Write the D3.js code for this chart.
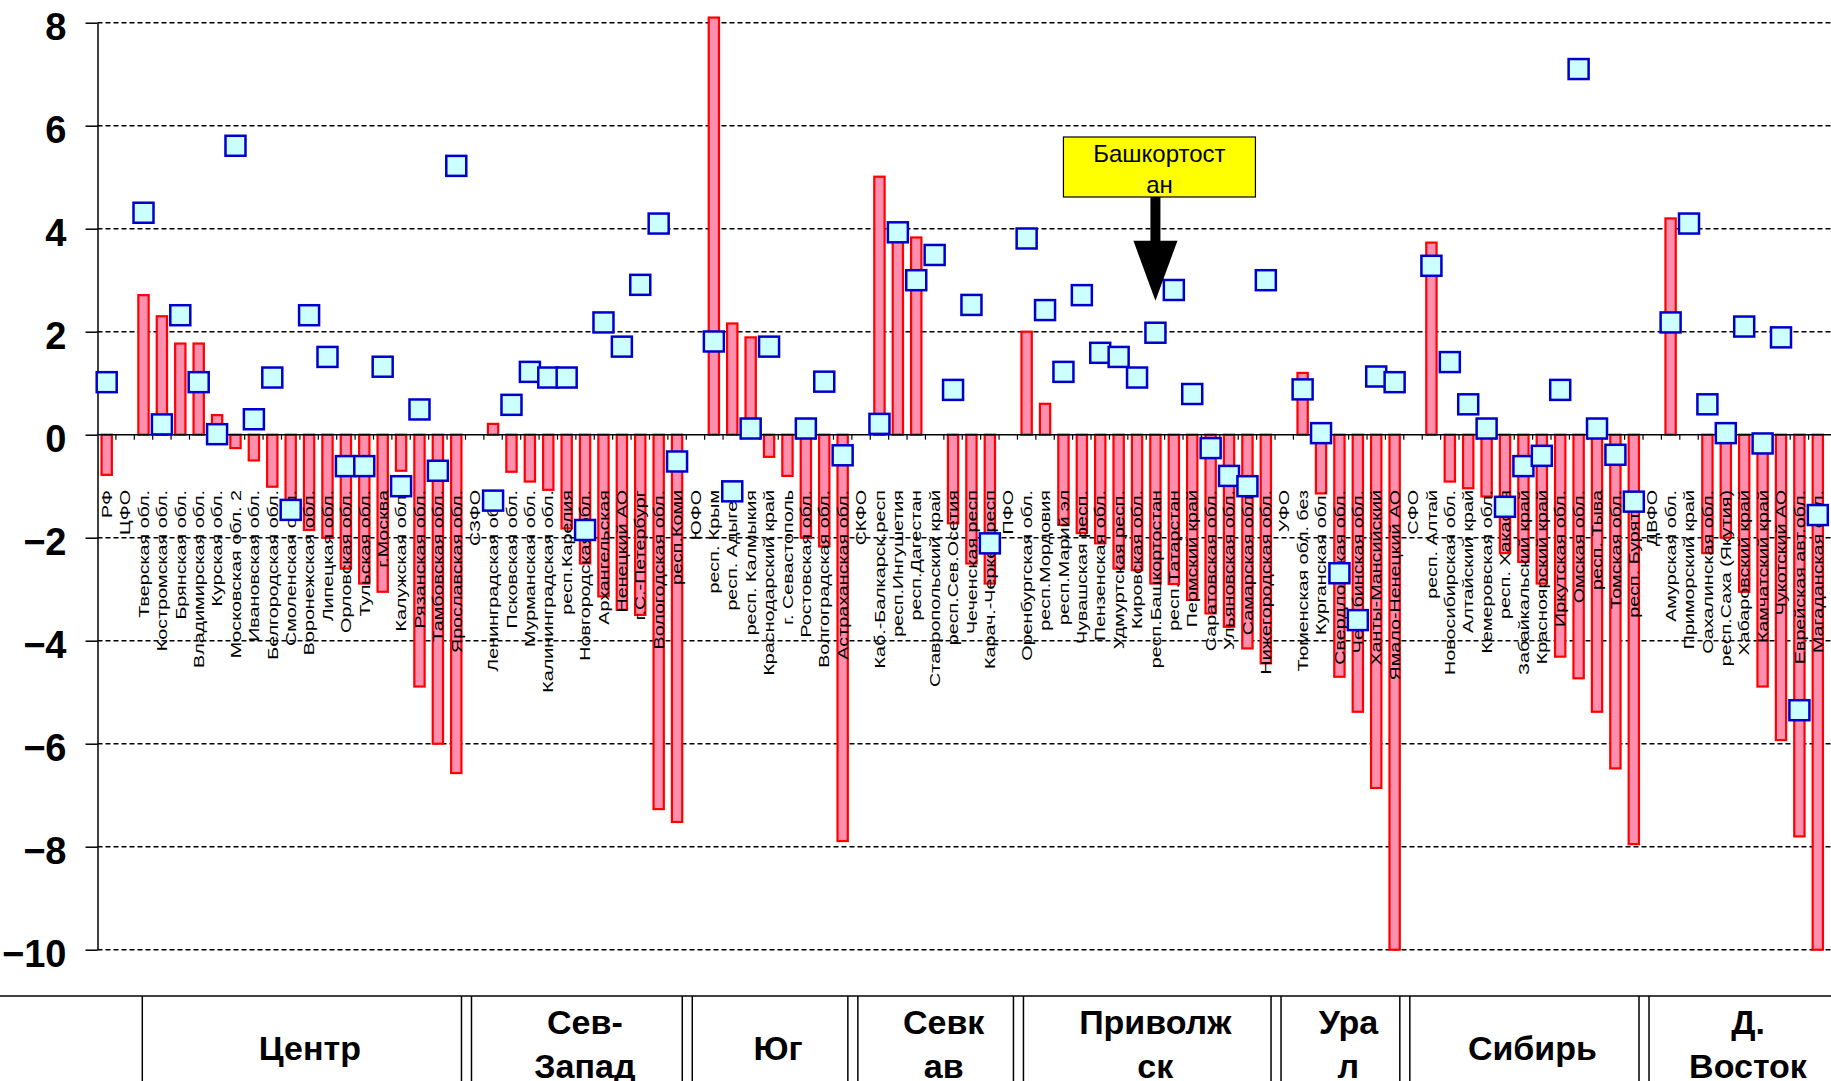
<!DOCTYPE html>
<html lang="ru">
  <head>
    <meta charset="UTF-8" />
    <title>Регионы</title>
    <script src="https://cdnjs.cloudflare.com/ajax/libs/d3/7.8.5/d3.min.js"></script>
    <style>
      body {
        margin: 0;
        background: #fff;
        font-family: 'Liberation Sans', Arial, sans-serif;
      }
      .cat text {
        font-size: 14.5px;
      }
      .yaxis text {
        font-size: 38px;
        font-weight: bold;
      }
      .region text {
        font-size: 34px;
        font-weight: bold;
      }
    </style>
  </head>
  <body>
    <svg width="1831" height="1081"></svg>
    <script>
      // categories (left to right)
      const categories = [
        'РФ', 'ЦФО', 'Тверская обл.', 'Костромская обл.', 'Брянская обл.', 'Владимирская обл.',
        'Курская обл.', 'Московская обл. 2', 'Ивановская обл.', 'Белгородская обл.', 'Смоленская обл.',
        'Воронежская обл.', 'Липецкая обл.', 'Орловская обл.', 'Тульская обл.', 'г.Москва',
        'Калужская обл.', 'Рязанская обл.', 'Тамбовская обл.', 'Ярославская обл.', 'СЗФО',
        'Ленинградская обл.', 'Псковская обл.', 'Мурманская обл.', 'Калининградская обл.',
        'респ.Карелия', 'Новгородская обл.', 'Архангельская', 'Ненецкий АО', 'г.С.-Петербург',
        'Вологодская обл.', 'респ.Коми', 'ЮФО', 'респ. Крым', 'респ. Адыгея', 'респ. Калмыкия',
        'Краснодарский край', 'г. Севастополь', 'Ростовская обл.', 'Волгоградская обл.',
        'Астраханская обл.', 'СКФО', 'Каб.-Балкарск.респ', 'респ.Ингушетия', 'респ.Дагестан',
        'Ставропольский край', 'респ.Сев.Осетия', 'Чеченская респ', 'Карач.-Черкес.респ', 'ПФО',
        'Оренбургская обл.', 'респ.Мордовия', 'респ.Марий эл', 'Чувашская респ.', 'Пензенская обл.',
        'Удмуртская респ.', 'Кировская обл.', 'респ.Башкортостан', 'респ.Татарстан', 'Пермский край',
        'Саратовская обл.', 'Ульяновская обл.', 'Самарская обл.', 'Нижегородская обл.', 'УФО',
        'Тюменская обл. без', 'Курганская обл.', 'Свердловская обл.', 'Челябинская обл.',
        'Ханты-Мансийский', 'Ямало-Ненецкий АО', 'СФО', 'респ. Алтай', 'Новосибирская обл.',
        'Алтайский край', 'Кемеровская обл.', 'респ. Хакасия', 'Забайкальский край',
        'Красноярский край', 'Иркутская обл.', 'Омская обл.', 'респ. Тыва', 'Томская обл.',
        'респ. Бурятия', 'ДВФО', 'Амурская обл.', 'Приморский край', 'Сахалинская обл.',
        'респ.Саха (Якутия)', 'Хабаровский край', 'Камчатский край', 'Чукотский АО',
        'Еврейская авт.обл.', 'Магаданская обл.'
      ];

      // bars (null = no bar)
      const barValues = [
        -0.78, null, 2.71, 2.3, 1.77, 1.77, 0.38, -0.26, -0.5, -1.01, -1.3,
        -1.85, -2.0, -2.6, -2.89, -3.05, -0.7, -4.89, -6.0, -6.57, null,
        0.21, -0.72, -0.91, -1.07, -1.82, -2.5, -3.14, -3.4, -3.5, -7.27, -7.52, null,
        8.1, 2.16, 1.89, -0.43, -0.8, -2.0, -2.17, -7.89, null,
        5.01, 3.88, 3.83, null, -1.72, -2.5, -2.89, null,
        2.0, 0.6, -1.75, -1.91, -2.11, -2.6, -2.63, -2.89, -2.9, -3.21, -3.47, -3.73, -4.15, -4.44, null,
        1.2, -1.14, -4.7, -5.38, -6.86, -10, null,
        3.73, -0.91, -1.04, -1.2, -2.3, -2.47, -2.89, -4.31, -4.73, -5.38, -6.48, -7.95, null,
        4.2, null, -2.3, -2.0, -3.05, -4.89, -5.93, -7.8, -10
      ];

      // square markers (null = no marker)
      const markerValues = [
        1.02, null, 4.31, 0.2, 2.32, 1.02, 0.01, 5.61, 0.3, 1.11, -1.46,
        2.32, 1.51, -0.61, -0.61, 1.32, -1.0, 0.49, -0.7, 5.22, null,
        -1.28, 0.58, 1.22, 1.11, 1.11, -1.85, 2.18, 1.71, 2.91, 4.1, -0.52, null,
        1.81, -1.1, 0.12, 1.71, null, 0.12, 1.03, -0.4, null,
        0.21, 3.93, 3.0, 3.49, 0.87, 2.52, -2.11, null,
        3.81, 2.42, 1.22, 2.71, 1.59, 1.51, 1.11, 1.98, 2.81, 0.79, -0.26, -0.8, -1.0, 3.0, null,
        0.88, 0.03, -2.69, -3.6, 1.13, 1.02, null,
        3.28, 1.41, 0.59, 0.12, -1.4, -0.61, -0.41, 0.87, 7.1, 0.12, -0.39, -1.3, null,
        2.18, 4.1, 0.59, 0.03, 2.1, -0.17, 1.89, -5.35, -1.56
      ];

      const yTicks = [8, 6, 4, 2, 0, -2, -4, -6, -8, -10];

      // bottom strip: columns where the double separators sit
      const stripSeps = ['СЗФО', 'ЮФО', 'СКФО', 'Оренбургская обл.', 'УФО', 'СФО', 'ДВФО'];
      const regionLabels = [
        ['Центр'], ['Сев-', 'Запад'], ['Юг'], ['Севк', 'ав'],
        ['Приволж', 'ск'], ['Ура', 'л'], ['Сибирь'], ['Д.', 'Восток']
      ];

      const callout = { target: 'респ.Башкортостан', value: 2.6, lines: ['Башкортост', 'ан'] };

      const svg = d3.select('svg');
      const width = +svg.attr('width');

      const x = d3.scaleBand().domain(categories).range([97.5, 1827]);
      const y = d3.scaleLinear().domain([-10, 8]).range([949.7, 22.7]);
      const bw = x.bandwidth();

      // grid
      svg.append('g')
        .selectAll('line')
        .data(yTicks.filter(d => d !== 0))
        .join('line')
        .attr('x1', x.range()[0])
        .attr('x2', width)
        .attr('y1', d => y(d))
        .attr('y2', d => y(d))
        .attr('stroke', '#000')
        .attr('stroke-width', 1.5)
        .attr('stroke-dasharray', '5,3');

      // y axis
      const yAxis = svg.append('g')
        .attr('class', 'yaxis')
        .attr('transform', `translate(${x.range()[0]},0)`)
        .call(d3.axisLeft(y).tickValues(yTicks).tickSize(12).tickPadding(19).tickSizeOuter(0));
      yAxis.select('.domain').attr('stroke', '#000').attr('stroke-width', 1.5);
      yAxis.selectAll('.tick line').attr('stroke-width', 1.5);
      yAxis.selectAll('.tick text')
        .attr('dy', '0.45em')
        .attr('fill', '#000')
        .style('font-family', "'Liberation Sans', Arial, sans-serif");

      // bars
      const barData = categories.map((c, i) => ({ c, v: barValues[i] })).filter(d => d.v !== null);
      svg.append('g')
        .selectAll('rect')
        .data(barData)
        .join('rect')
        .attr('x', d => x(d.c) + bw * 0.22)
        .attr('width', bw * 0.56)
        .attr('y', d => y(Math.max(0, d.v)))
        .attr('height', d => Math.abs(y(d.v) - y(0)))
        .attr('fill', '#ff8fae')
        .attr('stroke', '#ff0000')
        .attr('stroke-width', 2.2);

      // zero line + category ticks
      const y0 = y(0);
      svg.append('line')
        .attr('x1', x.range()[0]).attr('x2', width)
        .attr('y1', y0).attr('y2', y0)
        .attr('stroke', '#000').attr('stroke-width', 1.5);
      svg.append('g')
        .selectAll('line')
        .data(categories.slice(1))
        .join('line')
        .attr('x1', d => x(d)).attr('x2', d => x(d))
        .attr('y1', y0).attr('y2', y0 + 5)
        .attr('stroke', '#000').attr('stroke-width', 1.2);

      // category labels (rotated, a bit stretched along the text)
      svg.append('g')
        .attr('class', 'cat')
        .selectAll('text')
        .data(categories)
        .join('text')
        .attr('transform', d => `translate(${x(d) + bw / 2},490) rotate(-90) scale(1.36,1)`)
        .attr('text-anchor', 'end')
        .attr('dy', '0.36em')
        .attr('fill', '#000')
        .text(d => d);

      // markers
      const mk = 20;
      const markerData = categories.map((c, i) => ({ c, v: markerValues[i] })).filter(d => d.v !== null);
      svg.append('g')
        .selectAll('rect')
        .data(markerData)
        .join('rect')
        .attr('x', d => x(d.c) + bw / 2 - mk / 2)
        .attr('y', d => y(d.v) - mk / 2)
        .attr('width', mk)
        .attr('height', mk)
        .attr('fill', '#ccffff')
        .attr('stroke', '#0000cc')
        .attr('stroke-width', 2.5);

      // callout box + arrow
      const cx = x(callout.target) + bw / 2;
      const tipY = y(callout.value);
      const boxW = 192, boxH = 60, boxY = 137;
      const cg = svg.append('g');
      cg.append('rect')
        .attr('x', cx - boxW / 2 + 4).attr('y', boxY)
        .attr('width', boxW).attr('height', boxH)
        .attr('fill', '#ffff00').attr('stroke', '#000').attr('stroke-width', 1.2);
      cg.selectAll('text')
        .data(callout.lines)
        .join('text')
        .attr('x', cx + 4)
        .attr('y', (d, i) => boxY + 25 + i * 31)
        .attr('text-anchor', 'middle')
        .style('font-size', '24px')
        .text(d => d);
      cg.append('rect')
        .attr('x', cx - 5).attr('y', boxY + boxH)
        .attr('width', 10).attr('height', tipY - 59 - (boxY + boxH))
        .attr('fill', '#000');
      cg.append('path')
        .attr('d', `M${cx - 22},${tipY - 60}L${cx + 22},${tipY - 60}L${cx},${tipY}Z`)
        .attr('fill', '#000');

      // bottom strip with group names
      const stripTop = 996;
      const strip = svg.append('g').attr('class', 'region');
      strip.append('line')
        .attr('x1', 0).attr('x2', width)
        .attr('y1', stripTop).attr('y2', stripTop)
        .attr('stroke', '#000').attr('stroke-width', 1.5);

      const firstEdge = x('ЦФО') + bw + 8;
      const edges = [[firstEdge, firstEdge]].concat(stripSeps.map(d => [x(d) - 4, x(d) + 6]));
      const vlines = edges.flat().filter((v, i) => i > 0);
      strip.selectAll('line.v')
        .data(vlines)
        .join('line')
        .attr('class', 'v')
        .attr('x1', d => d).attr('x2', d => d)
        .attr('y1', stripTop).attr('y2', 1081)
        .attr('stroke', '#000').attr('stroke-width', 1.5);

      regionLabels.forEach((lines, i) => {
        const left = edges[i][1];
        const right = i + 1 < edges.length ? edges[i + 1][0] : width;
        const mid = (left + right) / 2 + 8;
        const t = strip.append('text')
          .attr('x', mid)
          .attr('text-anchor', 'middle')
          .attr('fill', '#000');
        if (lines.length === 1) {
          t.append('tspan').attr('x', mid).attr('y', 1060).text(lines[0]);
        } else {
          lines.forEach((l, j) => {
            t.append('tspan').attr('x', mid).attr('y', 1034 + j * 44).text(l);
          });
        }
      });
    </script>
  </body>
</html>
